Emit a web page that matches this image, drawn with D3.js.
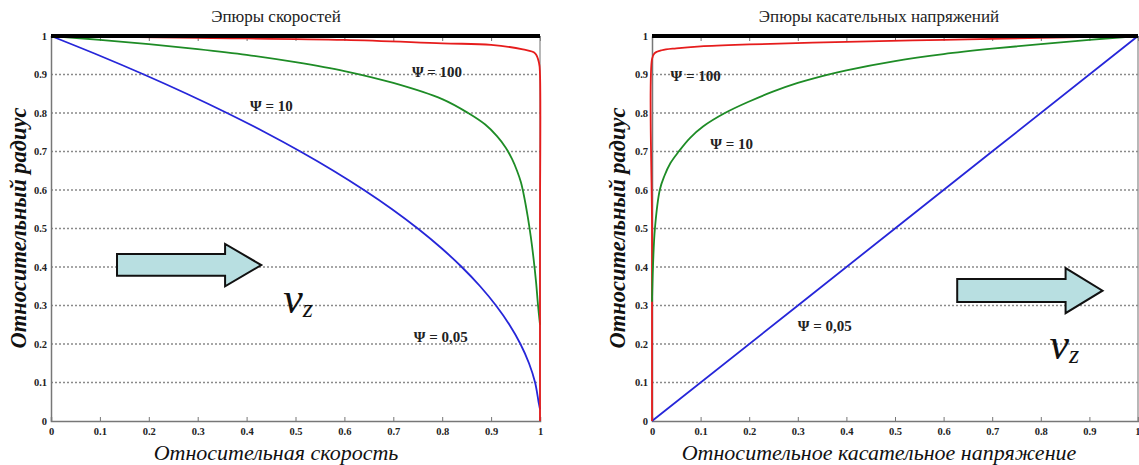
<!DOCTYPE html>
<html>
<head>
<meta charset="utf-8">
<script src="https://cdn.jsdelivr.net/npm/d3@7"></script>
<style>
  body { margin: 0; background: #fff; }
  svg { display: block; }
  svg text { font-family: "Liberation Serif", "Times New Roman", "DejaVu Serif", serif; }
</style>
</head>
<body>
<div id="chart"></div>
<script>
// ── Data: relative radius (y) vs relative velocity / relative shear stress (x) ──
const tickValues = [0, 0.1, 0.2, 0.3, 0.4, 0.5, 0.6, 0.7, 0.8, 0.9, 1];
const tickLabels = ['0', '0.1', '0.2', '0.3', '0.4', '0.5', '0.6', '0.7', '0.8', '0.9', '1'];
const gridValues = [0.1, 0.2, 0.3, 0.4, 0.5, 0.6, 0.7, 0.8, 0.9];

// Velocity profiles [x, y]
const velBlue = [[0, 1], [0.0975, 0.95], [0.19, 0.9], [0.2775, 0.85], [0.36, 0.8], [0.4375, 0.75],
  [0.51, 0.7], [0.5775, 0.65], [0.64, 0.6], [0.6975, 0.55], [0.75, 0.5], [0.7975, 0.45], [0.84, 0.4],
  [0.8775, 0.35], [0.91, 0.3], [0.9375, 0.25], [0.96, 0.2], [0.9775, 0.15], [0.99, 0.1],
  [0.997, 0.05], [1, 0.03]];
const velGreen = [[0, 1], [0.1, 0.99], [0.2, 0.979], [0.3, 0.966], [0.4, 0.951], [0.5, 0.932],
  [0.6, 0.909], [0.7, 0.878], [0.8, 0.836], [0.853, 0.8], [0.888, 0.77], [0.912, 0.74], [0.93, 0.71],
  [0.943, 0.68], [0.953, 0.65], [0.961, 0.62], [0.968, 0.58], [0.975, 0.53], [0.981, 0.48],
  [0.987, 0.42], [0.992, 0.36], [0.996, 0.3], [1, 0.25]];
const velRed = [[0, 1], [0.3, 0.995], [0.6, 0.99], [0.8, 0.981], [0.9, 0.977], [0.965, 0.965],
  [0.99, 0.955], [0.998, 0.93], [1, 0.9], [1, 0.5], [1, 0]];

// Shear stress profiles [x, y]
const stressBlue = [[0, 0], [0.5, 0.5], [1, 1]];
const stressGreen = [[0, 0.31], [0.002, 0.4], [0.006, 0.5], [0.016, 0.6], [0.025, 0.635], [0.038, 0.67],
  [0.055, 0.7], [0.078, 0.735], [0.105, 0.765], [0.15, 0.8], [0.2, 0.83], [0.25, 0.856], [0.3, 0.878],
  [0.35, 0.896], [0.4, 0.911], [0.5, 0.935], [0.6, 0.953], [0.7, 0.967], [0.8, 0.979], [0.9, 0.99], [1, 1]];
const stressRed = [[0, 0], [0, 0.5], [0, 0.94], [0.005, 0.955], [0.02, 0.963], [0.05, 0.968],
  [0.1, 0.973], [0.2, 0.978], [0.4, 0.985], [0.6, 0.99], [0.8, 0.995], [1, 1]];

const panels = [
  {
    left: 51, right: 540, title: 'Эпюры скоростей', titleX: 276,
    xTitle: 'Относительная скорость', yTitleX: 18,
    series: [
      { data: velBlue, color: '#2626d9' },
      { data: velGreen, color: '#1e8c26' },
      { data: velRed, color: '#e61c1c' }
    ],
    labels: [
      { text: 'Ψ = 100', x: 0.738, y: 0.905 },
      { text: 'Ψ = 10', x: 0.407, y: 0.818 },
      { text: 'Ψ = 0,05', x: 0.742, y: 0.218 }
    ],
    arrow: { x0: 0.135, x1: 0.356, x2: 0.43, yt: 0.434, yb: 0.377, ht: 0.46, hb: 0.35 },
    vz: { x: 0.475, y: 0.28 }
  },
  {
    left: 652, right: 1138, title: 'Эпюры касательных напряжений', titleX: 879,
    xTitle: 'Относительное касательное напряжение', yTitleX: 617,
    series: [
      { data: stressBlue, color: '#2626d9' },
      { data: stressRed, color: '#e61c1c' },
      { data: stressGreen, color: '#1e8c26' }
    ],
    labels: [
      { text: 'Ψ = 100', x: 0.038, y: 0.895 },
      { text: 'Ψ = 10', x: 0.12, y: 0.72 },
      { text: 'Ψ = 0,05', x: 0.30, y: 0.245 }
    ],
    arrow: { x0: 0.628, x1: 0.851, x2: 0.927, yt: 0.369, yb: 0.309, ht: 0.397, hb: 0.28 },
    vz: { x: 0.818, y: 0.16 }
  }
];

const W = 1139, H = 465, TOP = 36, BOTTOM = 421;

const svg = d3.select('#chart').append('svg')
  .attr('width', W)
  .attr('height', H);

panels.forEach((p, pi) => {
  const x = d3.scaleLinear().domain([0, 1]).range([p.left, p.right]);
  const y = d3.scaleLinear().domain([0, 1]).range([BOTTOM, TOP]);
  const g = svg.append('g');

  // ── Grid ──
  g.selectAll('.grid')
    .data(gridValues)
    .enter()
    .append('line')
    .attr('x1', x(0))
    .attr('x2', x(1))
    .attr('y1', d => y(d))
    .attr('y2', d => y(d))
    .attr('stroke', '#8a8a8a')
    .attr('stroke-width', 1.3)
    .attr('stroke-dasharray', '2,2');

  // ── Axes ──
  const fmt = d => tickLabels[tickValues.indexOf(d)];

  const xAxis = g.append('g')
    .attr('transform', `translate(0,${BOTTOM})`)
    .call(d3.axisBottom(x).tickValues(tickValues).tickSize(-4).tickPadding(7).tickFormat(fmt));
  xAxis.attr('font-family', null);
  xAxis.select('.domain').attr('stroke', '#777').attr('stroke-width', 1.5);
  xAxis.selectAll('line').attr('stroke', '#777');
  xAxis.selectAll('text')
    .attr('font-weight', '700')
    .attr('font-size', '10.5px')
    .attr('fill', '#222');
  // the last label of the right panel sits at the window edge
  if (pi === 1) {
    xAxis.selectAll('.tick:last-of-type text').attr('text-anchor', 'end').attr('x', 2);
  }

  const topAxis = g.append('g')
    .attr('transform', `translate(0,${TOP})`)
    .call(d3.axisTop(x).tickValues(tickValues).tickSize(-5).tickFormat(''));
  topAxis.select('.domain').remove();
  topAxis.selectAll('line').attr('stroke', '#777');

  const yAxis = g.append('g')
    .attr('transform', `translate(${x(0)},0)`)
    .call(d3.axisLeft(y).tickValues(tickValues).tickSize(0).tickPadding(4).tickFormat(fmt));
  yAxis.attr('font-family', null);
  yAxis.select('.domain').attr('stroke', '#777').attr('stroke-width', 1.5);
  yAxis.selectAll('text')
    .attr('font-weight', '700')
    .attr('font-size', '10.5px')
    .attr('fill', '#222');

  // Right border
  g.append('line')
    .attr('x1', x(1)).attr('x2', x(1))
    .attr('y1', y(0)).attr('y2', y(1))
    .attr('stroke', '#888')
    .attr('stroke-width', 1.2);

  // ── Curves ──
  const line = d3.line()
    .x(d => x(d[0]))
    .y(d => y(d[1]))
    .curve(d3.curveCatmullRom.alpha(0.5));

  p.series.forEach(s => {
    g.append('path')
      .datum(s.data)
      .attr('d', line)
      .attr('fill', 'none')
      .attr('stroke', s.color)
      .attr('stroke-width', 1.8);
  });

  // Thick wall line at r = 1
  g.append('line')
    .attr('x1', x(0)).attr('x2', x(1))
    .attr('y1', y(1)).attr('y2', y(1))
    .attr('stroke', '#000')
    .attr('stroke-width', 4);

  // ── Curve labels ──
  g.selectAll('.psi')
    .data(p.labels)
    .enter()
    .append('text')
    .attr('x', d => x(d.x))
    .attr('y', d => y(d.y))
    .attr('dy', '0.32em')
    .attr('font-weight', '700')
    .attr('font-size', '15px')
    .attr('fill', '#222')
    .text(d => d.text);

  // ── Flow arrow ──
  const a = p.arrow;
  const pts = [
    [a.x0, a.yt], [a.x1, a.yt], [a.x1, a.ht], [a.x2, (a.ht + a.hb) / 2],
    [a.x1, a.hb], [a.x1, a.yb], [a.x0, a.yb]
  ];
  g.append('polygon')
    .attr('points', pts.map(q => `${x(q[0])},${y(q[1])}`).join(' '))
    .attr('fill', '#b8dfe1')
    .attr('stroke', '#111')
    .attr('stroke-width', 2)
    .attr('stroke-linejoin', 'miter');

  const vz = g.append('text')
    .attr('x', x(p.vz.x))
    .attr('y', y(p.vz.y))
    .attr('font-style', 'italic')
    .attr('font-size', '44px')
    .attr('fill', '#111');
  vz.append('tspan').text('v');
  vz.append('tspan').attr('font-size', '26px').attr('dy', 4).text('z');

  // ── Titles ──
  svg.append('text')
    .attr('x', p.titleX)
    .attr('y', 22)
    .attr('text-anchor', 'middle')
    .attr('font-size', '17px')
    .attr('fill', '#222')
    .text(p.title);

  svg.append('text')
    .attr('x', p.titleX)
    .attr('y', 460)
    .attr('text-anchor', 'middle')
    .attr('font-size', '22px')
    .attr('font-style', 'italic')
    .attr('fill', '#111')
    .text(p.xTitle);

  svg.append('text')
    .attr('transform', `translate(${p.yTitleX},228) rotate(-90)`)
    .attr('text-anchor', 'middle')
    .attr('dy', '0.35em')
    .attr('font-size', '22.5px')
    .attr('font-style', 'italic')
    .attr('font-weight', '700')
    .attr('fill', '#111')
    .text('Относительный радиус');
});
</script>
</body>
</html>
